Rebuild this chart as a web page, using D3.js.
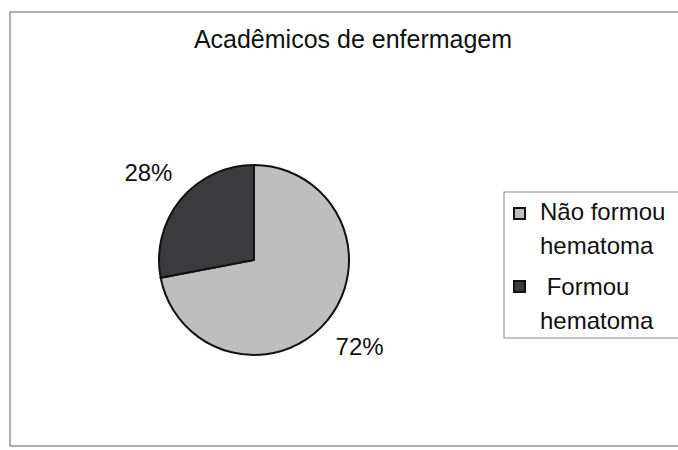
<html>
<head>
<meta charset="utf-8">
<title>Acadêmicos de enfermagem</title>
<script src="https://d3js.org/d3.v7.min.js"></script>
<style>
body { margin:0; background:#fff; }
text { font-family: Arial, "Liberation Sans", sans-serif; fill:#111; }
</style>
</head>
<body>
<div id="chart"></div>
<script>
var categories = ["Não formou hematoma", "Formou hematoma"];
var legendLines = [["Não formou", "hematoma"], [" Formou", "hematoma"]];
var values = [72, 28];
var labels = ["72%", "28%"];
var colors = ["#bebebe", "#3b3b3d"];

var width = 678, height = 450;
var cx = 254, cy = 260, r = 95;

var svg = d3.select("#chart").append("svg")
    .attr("width", width)
    .attr("height", height);

// outer frame of the chart area
svg.append("rect")
    .attr("x", 10).attr("y", 12)
    .attr("width", 680).attr("height", 434)
    .attr("fill", "#fff")
    .attr("stroke", "#777")
    .attr("stroke-width", 1.2);

svg.append("text")
    .attr("x", 353).attr("y", 48)
    .attr("text-anchor", "middle")
    .style("font-size", "25px")
    .text("Acadêmicos de enfermagem");

var pie = d3.pie().sort(null).value(function(d) { return d; });
var arc = d3.arc().innerRadius(0).outerRadius(r);
var arcs = pie(values);

var g = svg.append("g").attr("transform", "translate(" + cx + "," + cy + ")");
g.selectAll("path").data(arcs).enter().append("path")
    .attr("d", arc)
    .attr("fill", function(d, i) { return colors[i]; })
    .attr("stroke", "#111")
    .attr("stroke-width", 2);

// percentage labels, outside the pie
var labelArc = d3.arc().innerRadius(137).outerRadius(137);
g.selectAll("text.pct").data(arcs).enter().append("text")
    .attr("class", "pct")
    .attr("x", function(d) { return labelArc.centroid(d)[0]; })
    .attr("y", function(d) { return labelArc.centroid(d)[1] + 8; })
    .attr("text-anchor", "middle")
    .style("font-size", "24px")
    .text(function(d, i) { return labels[i]; });

// legend
var lg = svg.append("g");
lg.append("rect")
    .attr("x", 504).attr("y", 192)
    .attr("width", 190).attr("height", 146)
    .attr("fill", "#fff")
    .attr("stroke", "#888")
    .attr("stroke-width", 1);

var item = lg.selectAll("g.item").data(categories).enter().append("g")
    .attr("class", "item")
    .attr("transform", function(d, i) { return "translate(514," + (208 + i * 73) + ")"; });
item.append("rect")
    .attr("width", 11).attr("height", 11)
    .attr("fill", function(d, i) { return colors[i]; })
    .attr("stroke", "#111")
    .attr("stroke-width", 2);
item.each(function(d, i) {
    var t = d3.select(this).append("text")
        .attr("x", 24).attr("y", 12 + i * 2)
        .style("font-size", "24px")
        .attr("xml:space", "preserve");
    legendLines[i].forEach(function(s, j) {
        t.append("tspan").attr("x", 26).attr("dy", j == 0 ? 0 : 34).text(s);
    });
});
</script>
</body>
</html>
